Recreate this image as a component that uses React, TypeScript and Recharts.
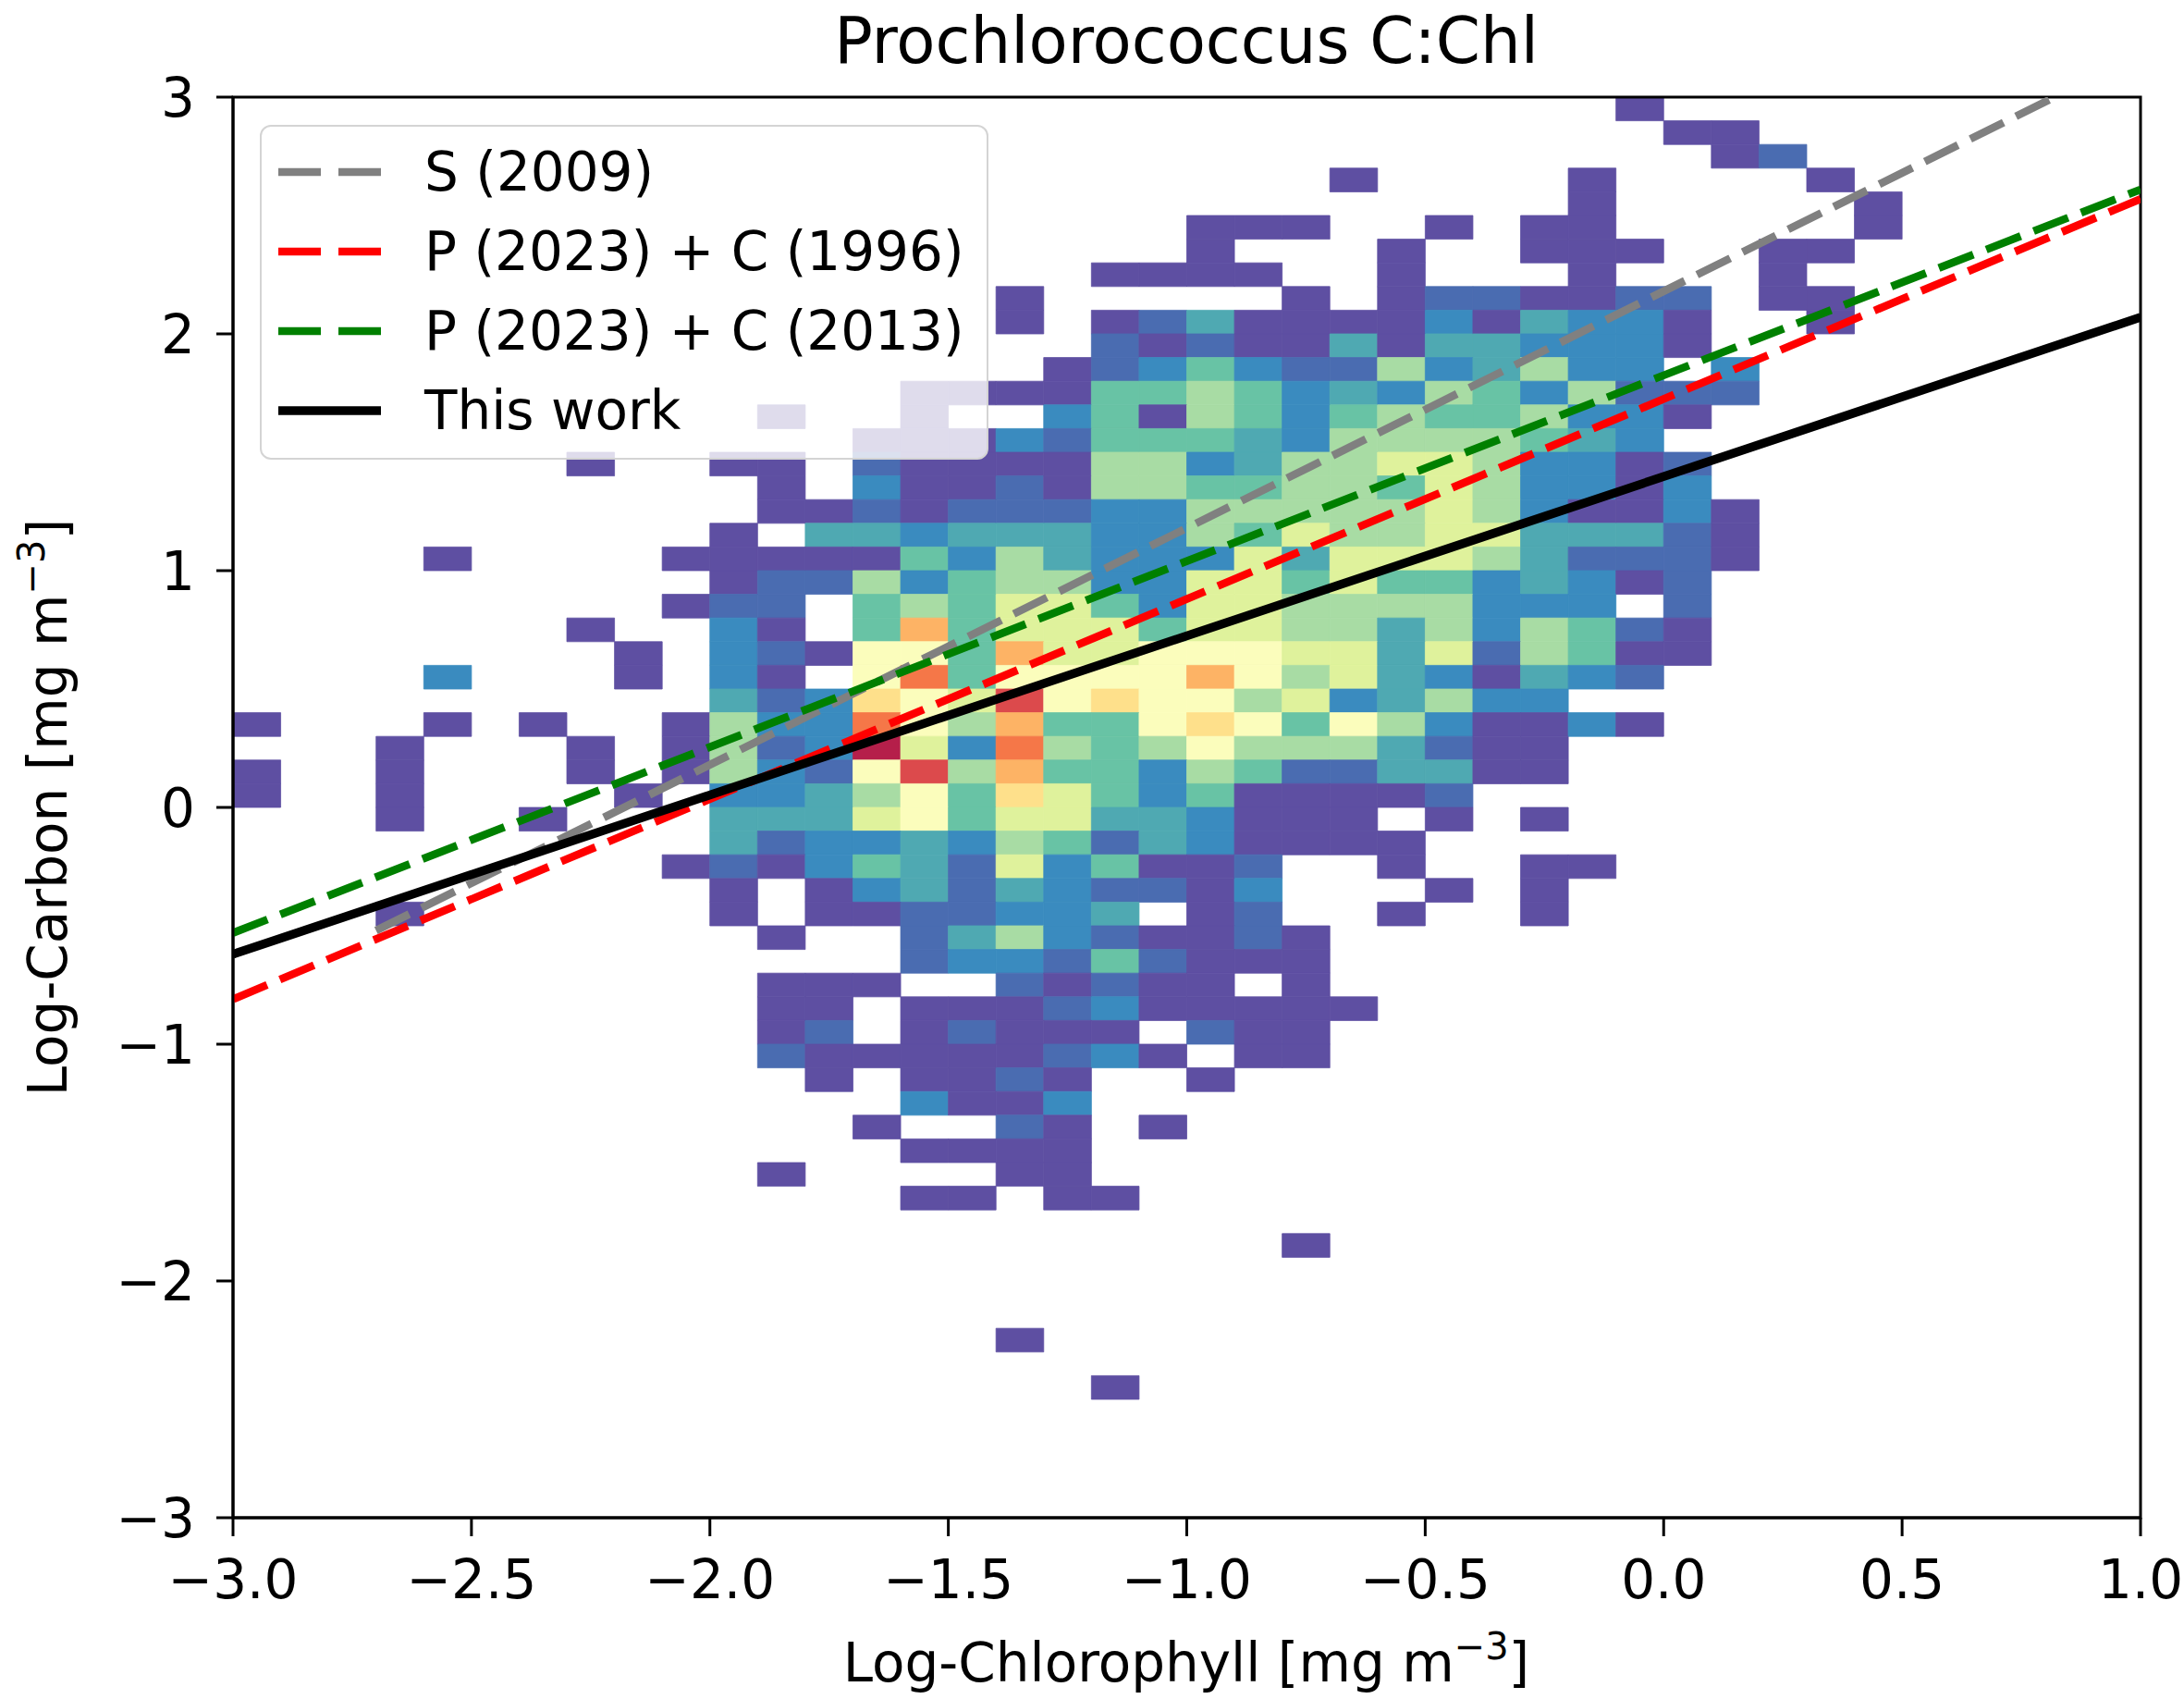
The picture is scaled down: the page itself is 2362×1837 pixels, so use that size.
import React from 'react'
import { ComposedChart, Line, XAxis, YAxis, ReferenceArea, Legend } from 'recharts'

const FONT = '"DejaVu Sans", Verdana, sans-serif'
const W = 2362
const H = 1837

const xTicks = [-3, -2.5, -2, -1.5, -1, -0.5, 0, 0.5, 1]
const yTicks = [-3, -2, -1, 0, 1, 2, 3]

// 2-D histogram: one string per 0.1 bin of Log-Carbon
// (first row = 2.9..3.0), one char per 0.1 bin of Log-Chlorophyll starting at -3.0.
// '.' = empty, 1..9 then A..D = increasing density.
const densityRows = [
  '..... ..... ..... ..... ..... ....1 .....',
  '..... ..... ..... ..... ..... ..... 11...',
  '..... ..... ..... ..... ..... ..... .12..',
  '..... ..... ..... ..... ...1. ...1. ...1.',
  '..... ..... ..... ..... ..... ...1. ....1',
  '..... ..... ..... ..... 111.. 1.11. ....1',
  '..... ..... ..... ..... 1...1 ..111 ..11.',
  '..... ..... ..... ...11 11..1 ...1. ..1..',
  '..... ..... ..... .1... ..1.1 22112 2.11.',
  '..... ..... ..... .1.12 41111 31433 1..1.',
  '..... ..... ..... ...21 21141 44333 1....',
  '..... ..... ..... ..123 53226 34633 .3...',
  '..... ..... ....1 11155 65343 65362 22...',
  '..... ..... .1..1 ..351 65356 55633 1....',
  '..... ..... ...11 13255 54366 66543 .....',
  '..... ..1.. 11.21 11166 34667 76331 2....',
  '..... ..... .1.31 12166 55665 76331 3....',
  '..... ..... .1121 22233 66666 76311 31...',
  '..... ..... 1.443 44433 65766 77444 21...',
  '....1 ....1 11115 36433 37477 76422 21...',
  '..... ..... 12263 56633 77575 53431 2....',
  '..... ....1 22.56 57753 77666 6333. 2....',
  '..... ..1.. 31.5A 57775 77664 63652 1....',
  '..... ...1. 32188 5A778 88774 72651 1....',
  '....3 ...1. 31.8B 58888 A8674 31432 .....',
  '..... ..... 42398 7C898 86734 633.. .....',
  '1...1 .1..1 633B8 6A558 98586 31131 .....',
  '...1. ..1.1 623D7 3B656 86664 211.. .....',
  '1..1. ..1.1 6328C 6A553 65224 411.. .....',
  '1..1. ...1. 33468 59753 51111 2.... .....',
  '...1. .1... 44478 57744 3111. 1.1.. .....',
  '..... ..... 42334 36524 31111 ..... .....',
  '..... ....1 21354 27351 12..1 ..11. .....',
  '..... ..... 1.134 24322 13... 1.1.. .....',
  '...1. ..... 1.112 2334. 12..1 ..1.. .....',
  '..... ..... .1..2 46321 121.. ..... .....',
  '..... ..... ....2 33252 111.. ..... .....',
  '..... ..... .111. .2121 1.1.. ..... .....',
  '..... ..... .11.1 11231 1111. ..... .....',
  '..... ..... .12.1 2111. 211.. ..... .....',
  '..... ..... .2111 11231 .11.. ..... .....',
  '..... ..... ..1.1 121.. 1.... ..... .....',
  '..... ..... ....3 113.. ..... ..... .....',
  '..... ..... ...1. .21.1 ..... ..... .....',
  '..... ..... ....1 111.. ..... ..... .....',
  '..... ..... .1... .11.. ..... ..... .....',
  '..... ..... ....1 1.11. ..... ..... .....',
  '..... ..... ..... ..... ..... ..... .....',
  '..... ..... ..... ..... ..1.. ..... .....',
  '..... ..... ..... ..... ..... ..... .....',
  '..... ..... ..... ..... ..... ..... .....',
  '..... ..... ..... ..... ..... ..... .....',
  '..... ..... ..... .1... ..... ..... .....',
  '..... ..... ..... ..... ..... ..... .....',
  '..... ..... ..... ...1. ..... ..... .....',
]

const levelColors: Record<string, string> = {
  '1': '#5e4fa2',
  '2': '#4a6cb1',
  '3': '#3a8bbf',
  '4': '#4fa9b2',
  '5': '#68c3a5',
  '6': '#a8dca4',
  '7': '#dff29c',
  '8': '#fbfdbc',
  '9': '#fee08b',
  A: '#fdb365',
  B: '#f57748',
  C: '#dc4a4c',
  D: '#b51f4a',
}

// fitted relations, end points
const s2009 = [{ x: -2.7, y: -0.52 }, { x: 0.82, y: 3.0 }]
const p2023c1996 = [{ x: -3, y: -0.81 }, { x: 1, y: 2.57 }]
const p2023c2013 = [{ x: -3, y: -0.53 }, { x: 1, y: 2.61 }]
const thisWork = [{ x: -3, y: -0.62 }, { x: 1, y: 2.07 }]

const series = [
  { name: 'S (2009)', data: s2009, color: '#808080', dash: '40 15', width: 8.5 },
  { name: 'P (2023) + C (1996)', data: p2023c1996, color: '#ff0000', dash: '40 15', width: 8.5 },
  { name: 'P (2023) + C (2013)', data: p2023c2013, color: '#008000', dash: '40 15', width: 8.5 },
  { name: 'This work', data: thisWork, color: '#000000', dash: undefined, width: 9.5 },
]

const cells = densityRows.flatMap((row, r) =>
  row
    .replace(/ /g, '')
    .split('')
    .map((level, c) => ({ r, c, level }))
    .filter((d) => d.level !== '.'),
)

const minus = (v: number, digits: number) => (v < 0 ? '\u2212' : '') + Math.abs(v).toFixed(digits)

const XTitle = () => (
  <text x={1283} y={1818} textAnchor="middle" fontFamily={FONT} fontSize={58} fill="#000">
    Log-Chlorophyll [mg m<tspan dy={-24} fontSize={40}>{'\u22123'}</tspan>
    <tspan dy={24}>]</tspan>
  </text>
)

const YTitle = () => (
  <text transform="translate(72,873) rotate(-90)" textAnchor="middle" fontFamily={FONT} fontSize={58} fill="#000">
    Log-Carbon [mg m<tspan dy={-24} fontSize={40}>{'\u22123'}</tspan>
    <tspan dy={24}>]</tspan>
  </text>
)

function LegendBox({ payload }: any) {
  const shown = new Set((payload || []).map((p: any) => p.value))
  const items = series.filter((s) => shown.size === 0 || shown.has(s.name))
  return (
    <div
      style={{
        boxSizing: 'border-box',
        width: 788,
        height: 362,
        background: 'rgba(255,255,255,0.8)',
        border: '2px solid #d4d4d4',
        borderRadius: 12,
        paddingTop: 6,
      }}
    >
      {items.map((s) => (
        <div key={s.name} style={{ height: 86, display: 'flex', alignItems: 'center' }}>
          <svg width={111} height={20} style={{ marginLeft: 18, marginRight: 47, flex: 'none' }}>
            <line x1={0} y1={10} x2={111} y2={10} stroke={s.color} strokeWidth={s.width} strokeDasharray={s.dash ? '46 19' : undefined} />
          </svg>
          <span style={{ fontFamily: FONT, fontSize: 58, color: '#000', lineHeight: 1, whiteSpace: 'nowrap' }}>{s.name}</span>
        </div>
      ))}
    </div>
  )
}

export default function App() {
  return (
    <div style={{ position: 'absolute', left: 0, top: 0, width: W, height: H, background: '#fff' }}>
      <ComposedChart width={W} height={H} margin={{ top: 105, right: 47, left: 0, bottom: 0 }}>
        <XAxis
          type="number"
          dataKey="x"
          domain={[-3, 1]}
          ticks={xTicks}
          interval={0}
          allowDataOverflow
          height={196}
          tickFormatter={(v: number) => minus(v, 1)}
          tick={{ fontSize: 58, fill: '#000', fontFamily: FONT }}
          tickSize={20}
          tickMargin={26}
          tickLine={{ stroke: '#000', strokeWidth: 3 }}
          axisLine={{ stroke: '#000', strokeWidth: 3 }}
          label={<XTitle />}
        />
        <YAxis
          type="number"
          domain={[-3, 3]}
          ticks={yTicks}
          interval={0}
          allowDataOverflow
          width={252}
          tickFormatter={(v: number) => minus(v, 0)}
          tick={{ fontSize: 58, fill: '#000', fontFamily: FONT }}
          tickSize={18}
          tickMargin={23}
          tickLine={{ stroke: '#000', strokeWidth: 3 }}
          axisLine={{ stroke: '#000', strokeWidth: 3 }}
          label={<YTitle />}
        />
        {cells.map((d) => (
          <ReferenceArea
            key={`${d.r}-${d.c}`}
            x1={(d.c - 30) / 10}
            x2={(d.c - 29) / 10}
            y1={(29 - d.r) / 10}
            y2={(30 - d.r) / 10}
            fill={levelColors[d.level]}
            fillOpacity={1}
            stroke={levelColors[d.level]}
            strokeWidth={0.8}
            ifOverflow="visible"
          />
        ))}
        {series.map((s) => (
          <Line
            key={s.name}
            name={s.name}
            data={s.data}
            dataKey="y"
            type="linear"
            stroke={s.color}
            strokeWidth={s.width}
            strokeDasharray={s.dash}
            dot={false}
            activeDot={false}
            isAnimationActive={false}
          />
        ))}
        <ReferenceArea x1={-3} x2={1} y1={-3} y2={3} fill="none" stroke="#000" strokeWidth={3} ifOverflow="visible" />
        <Legend
          layout="vertical"
          align="center"
          verticalAlign="middle"
          wrapperStyle={{ left: 281, top: 135, width: 788, height: 362 }}
          content={<LegendBox />}
        />
      </ComposedChart>
      <svg width={W} height={100} style={{ position: 'absolute', left: 0, top: 0, pointerEvents: 'none' }}>
        <text x={1283} y={68} textAnchor="middle" fontFamily={FONT} fontSize={69} fill="#000">
          Prochlorococcus C:Chl
        </text>
      </svg>
    </div>
  )
}
